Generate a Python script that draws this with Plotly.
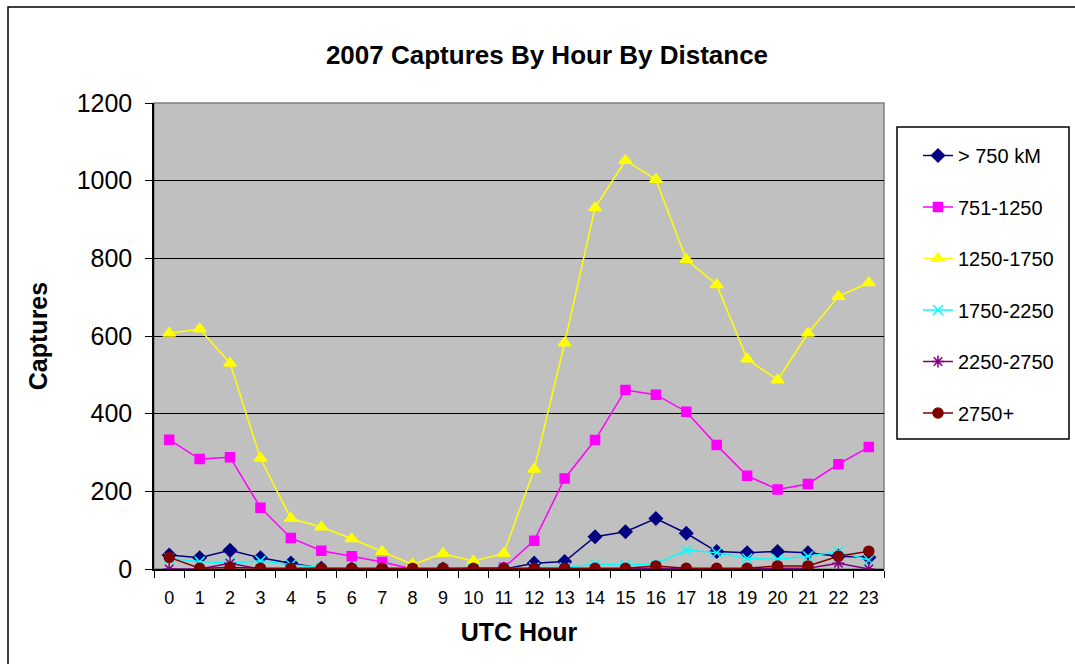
import plotly.graph_objects as go

hours = [str(h) for h in range(24)]

gt750 = [36, 29, 48, 29, 15, 2, 0, 0, 0, 0, 0, 0, 15, 19, 83, 96, 130, 92, 45, 42, 45, 42, 33, 30]
r751_1250 = [333, 283, 288, 158, 80, 47, 33, 18, 0, 0, 3, 3, 73, 233, 332, 461, 449, 405, 319, 240, 205, 219, 270, 314]
r1250_1750 = [607, 618, 530, 285, 130, 108, 78, 45, 12, 40, 20, 40, 257, 582, 930, 1052, 1003, 797, 732, 541, 487, 607, 702, 737]
r1750_2250 = [27, 19, 15, 21, 11, 4, 1, 1, 0, 0, 0, 0, 4, 4, 13, 10, 13, 49, 42, 27, 25, 33, 45, 23]
r2250_2750 = [0, 0, 15, 0, 0, 0, 0, 0, 0, 0, 0, 0, 0, 0, 0, 0, 2, 0, 0, 0, 2, 2, 15, 0]
r2750p = [30, 2, 4, 2, 2, 2, 2, 2, 2, 2, 2, 2, 2, 2, 2, 2, 8, 2, 2, 2, 8, 8, 33, 46]

series = [
    ("> 750 kM", gt750, "#000080", "diamond", 10),
    ("751-1250", r751_1250, "#FF00FF", "square", 9),
    ("1250-1750", r1250_1750, "#FFFF00", "triangle-up", 11),
    ("1750-2250", r1750_2250, "#00FFFF", "x-thin-open", 10),
    ("2250-2750", r2250_2750, "#800080", "asterisk-open", 10),
    ("2750+", r2750p, "#800000", "circle", 10),
]

fig = go.Figure()
for i, (name, vals, col, sym, sz) in enumerate(series):
    fig.add_trace(go.Scatter(
        x=hours, y=vals, name=name, mode="lines+markers", legendgroup=str(i),
        line=dict(color=col, width=1.5),
        marker=dict(symbol=sym, size=sz, color=col, line=dict(color=col, width=1.5))))

L, R, T, B = 154, 191, 103, 95
W, H = 1075, 664
pw = W - L - R
ph = H - T - B

fig.update_layout(
    width=W, height=H,
    margin=dict(l=L, r=R, t=T, b=B),
    paper_bgcolor="white", plot_bgcolor="#C0C0C0",
    font=dict(family="Arial, Liberation Sans, sans-serif", color="black"),
    title=dict(text="<b>2007 Captures By Hour By Distance</b>", font=dict(size=26),
               xref="container", x=547 / W, xanchor="center",
               yref="container", y=1 - 55 / H, yanchor="middle"),
    showlegend=True,
    legend=dict(x=(918 - L) / pw, xanchor="left", y=(H - B - 136) / ph, yanchor="top",
                bgcolor="rgba(0,0,0,0)", borderwidth=0, font=dict(size=20),
                tracegroupgap=22.5),
    xaxis=dict(type="category", tickson="boundaries", ticks="outside", ticklen=7,
               tickcolor="black", showline=True, linecolor="black", linewidth=1.5,
               showgrid=False, tickfont=dict(size=18), range=[-0.5, 23.5],
               ticklabelstandoff=12,
               title=dict(text="<b>UTC Hour</b>", font=dict(size=25), standoff=16)),
    yaxis=dict(range=[0, 1200], dtick=200, ticks="outside", ticklen=7, tickcolor="black",
               showline=True, linecolor="black", linewidth=1.5,
               gridcolor="black", gridwidth=1, zeroline=False, tickfont=dict(size=25),
               ticklabelstandoff=8,
               title=dict(text="<b>Captures</b>", font=dict(size=25), standoff=22)),
    shapes=[
        dict(type="rect", xref="paper", yref="paper", x0=0, x1=1, y0=0, y1=1,
             line=dict(color="#808080", width=1.5), layer="below"),
        dict(type="rect", xref="paper", yref="paper",
             x0=(897 - L) / pw, x1=(1069 - L) / pw,
             y0=(H - B - 439) / ph, y1=(H - B - 127) / ph,
             line=dict(color="black", width=1.5), fillcolor="white", layer="below"),
        dict(type="rect", xref="paper", yref="paper",
             x0=(8 - L) / pw, x1=(W + 10 - L) / pw,
             y0=(H - B - (H + 10)) / ph, y1=(H - B - 7) / ph,
             line=dict(color="black", width=1.5), layer="below"),
    ],
)

fig.write_html("out.html", config={"displayModeBar": False},
               post_script="document.body.style.margin='0';document.body.style.overflow='hidden';")
